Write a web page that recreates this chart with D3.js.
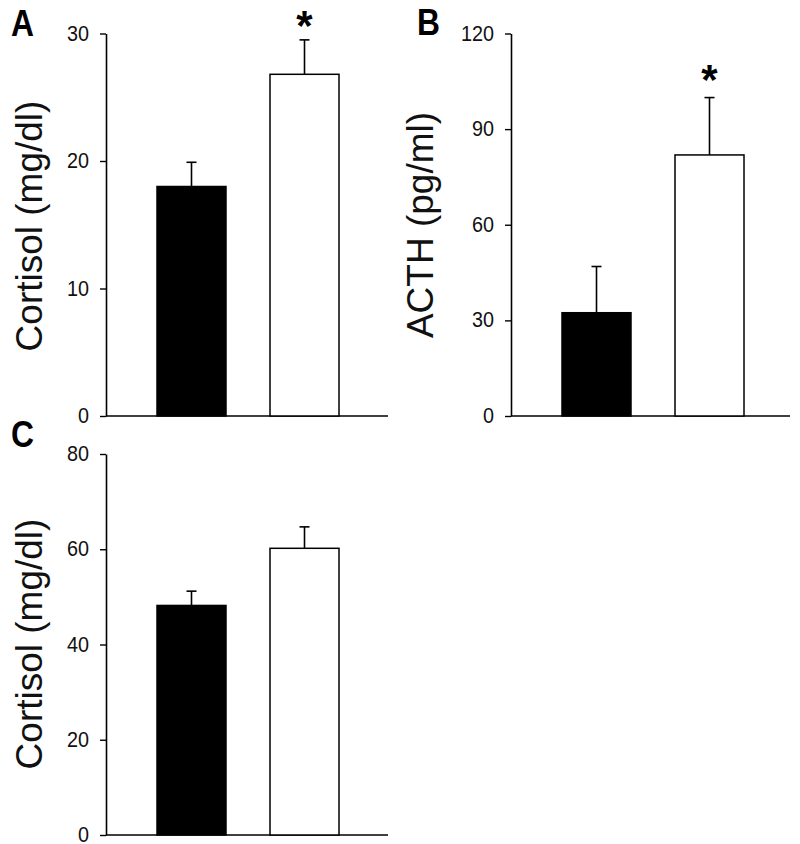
<!DOCTYPE html>
<html><head><meta charset="utf-8">
<script src="https://cdn.jsdelivr.net/npm/d3@7"></script>
<style>
body{margin:0;background:#fff;}
svg{display:block;}
.tick text{font-family:"Liberation Sans",Arial,sans-serif;font-size:22px;fill:#111;}
</style></head>
<body>
<script>
// ---- data ----
const groups = ["Control", "Treated"];
const cortisolA = [18.0, 26.8];
const cortisolAErr = [1.9, 2.7];
const acthB = [32.4, 81.9];
const acthBErr = [14.5, 18.0];
const cortisolC = [48.2, 60.2];
const cortisolCErr = [3.0, 4.5];
const ticksA = [0, 10, 20, 30];
const ticksB = [0, 30, 60, 90, 120];
const ticksC = [0, 20, 40, 60, 80];
const significant = {A: [false, true], B: [false, true], C: [false, false]};
const fills = ["#000000", "#ffffff"];

const W = 800, H = 844;
const svg = d3.select("body").append("svg").attr("width", W).attr("height", H);

function panel(opt) {
  const g = svg.append("g");
  const y = d3.scaleLinear().domain(opt.domain).range([opt.y0, opt.y1]);
  const x = d3.scalePoint().domain(groups).range([opt.axisX + 85.5, opt.axisX + 198.5]);
  const bw = 69;
  const sx = 0.9;
  // y axis
  const ax = g.append("g").attr("transform", `translate(${opt.axisX},0)`)
    .call(d3.axisLeft(y).tickValues(opt.ticks).tickSize(6).tickPadding(11).tickSizeOuter(0));
  ax.select(".domain").attr("stroke", "#000").attr("stroke-width", 1.6);
  ax.selectAll(".tick line").attr("stroke", "#000").attr("stroke-width", 1.4);
  ax.selectAll(".tick text").attr("x", -17 / sx).attr("dy", "0.3em").attr("transform", `scale(${sx},1)`);
  // x axis line
  g.append("line").attr("x1", opt.axisX).attr("x2", opt.axisEnd)
    .attr("y1", y(0)).attr("y2", y(0)).attr("stroke", "#000").attr("stroke-width", 1.6);
  // error bars
  const eb = g.append("g");
  opt.values.forEach((v, i) => {
    const cx = x(groups[i]);
    eb.append("line").attr("x1", cx).attr("x2", cx).attr("y1", y(v)).attr("y2", y(v + opt.errs[i]))
      .attr("stroke", "#000").attr("stroke-width", 1.6);
    eb.append("line").attr("x1", cx - 5).attr("x2", cx + 5).attr("y1", y(v + opt.errs[i])).attr("y2", y(v + opt.errs[i]))
      .attr("stroke", "#000").attr("stroke-width", 1.6);
    if (opt.sig[i]) {
      g.append("text").attr("x", cx).attr("y", y(v + opt.errs[i]) - opt.starGap)
        .attr("text-anchor", "middle")
        .style("font-family", "Liberation Sans, Arial, sans-serif")
        .style("font-weight", "bold").style("font-size", "42px").text("*");
    }
  });
  // bars
  g.selectAll("rect.bar").data(opt.values).enter().append("rect")
    .attr("x", (d, i) => x(groups[i]) - bw / 2)
    .attr("width", bw)
    .attr("y", d => y(d))
    .attr("height", d => y(0) - y(d))
    .attr("fill", (d, i) => fills[i])
    .attr("stroke", "#000").attr("stroke-width", 1.5);
  // y title
  g.append("text")
    .attr("transform", `translate(${opt.titleX},${opt.titleY}) rotate(-90)`)
    .attr("text-anchor", "middle")
    .style("font-family", "Liberation Sans, Arial, sans-serif")
    .style("font-size", "37px").attr("fill", "#111")
    .text(opt.title);
  // panel letter
  g.append("text").attr("transform", `translate(${opt.letterX},${opt.letterY}) scale(0.86,1)`)
    .style("font-family", "Liberation Sans, Arial, sans-serif")
    .style("font-weight", "bold").style("font-size", "37px")
    .text(opt.letter);
}

panel({letter: "A", letterX: 11, letterY: 36, values: cortisolA, errs: cortisolAErr, ticks: ticksA,
  domain: [0, 30], y0: 416, y1: 33.5, axisX: 106, axisEnd: 388, sig: significant.A, starGap: 0,
  title: "Cortisol (mg/dl)", titleX: 42, titleY: 226});
panel({letter: "B", letterX: 417, letterY: 35, values: acthB, errs: acthBErr, ticks: ticksB,
  domain: [0, 120], y0: 416, y1: 33.5, axisX: 511, axisEnd: 790, sig: significant.B, starGap: 4,
  title: "ACTH (pg/ml)", titleX: 433, titleY: 225});
panel({letter: "C", letterX: 11, letterY: 447, values: cortisolC, errs: cortisolCErr, ticks: ticksC,
  domain: [0, 80], y0: 835, y1: 454, axisX: 106, axisEnd: 388, sig: significant.C, starGap: 0,
  title: "Cortisol (mg/dl)", titleX: 42, titleY: 644});
</script>
</body></html>
